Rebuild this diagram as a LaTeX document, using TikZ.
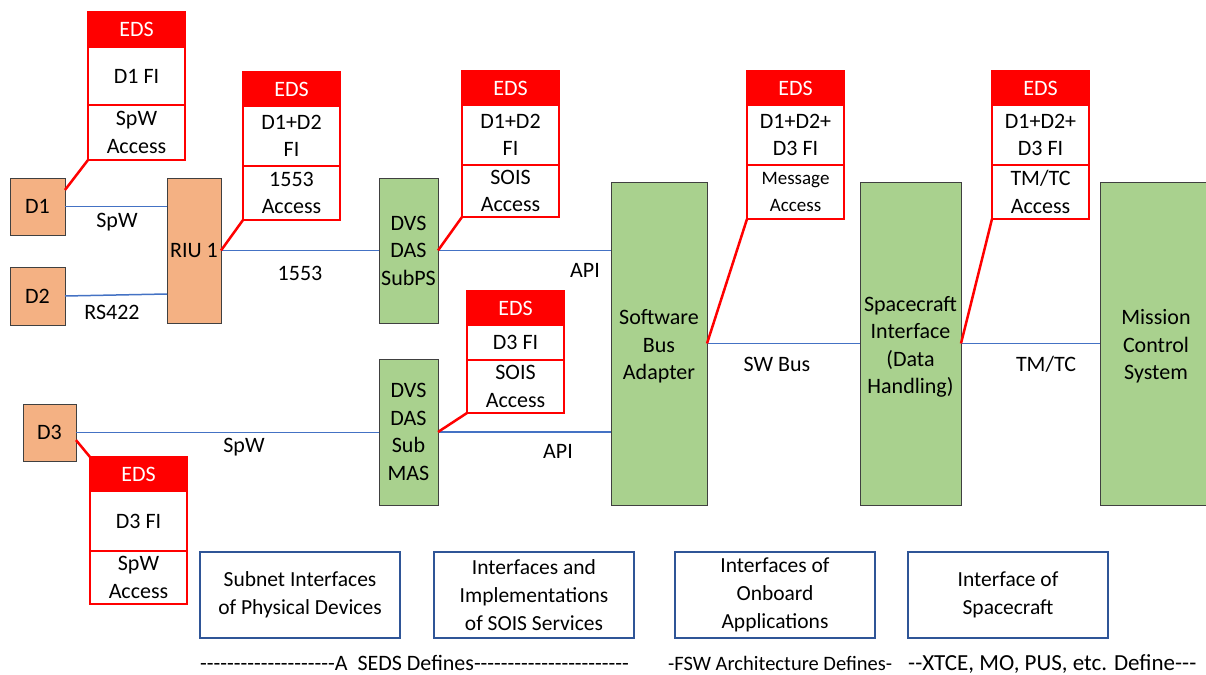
\documentclass[tikz,border=0pt]{standalone}
\usepackage{fontspec}
\setmainfont{Carlito}
\newfontfamily\plainhyphens{Carlito}[Ligatures=TeXOff]
\usetikzlibrary{calc}

\definecolor{devorange}{HTML}{F4B183}
\definecolor{swgreen}{HTML}{A9D18E}
\definecolor{boxgray}{HTML}{404040}
\definecolor{linkblue}{HTML}{4472C4}
\definecolor{edsred}{HTML}{FF0000}
\definecolor{capblue}{HTML}{2F5597}

\newcommand\bodyfont{\fontsize{22}{27.5}\selectfont}
\newcommand\smallfont{\fontsize{19}{25}\selectfont}
\newcommand\capfont{\fontsize{21.5}{28}\selectfont}
\newcommand\notefont{\plainhyphens\fontsize{22}{24}\selectfont}

% EDS stack: header, field-interface cell, access cell
% #1 name, #2 left, #3 top, #4/#5/#6 section heights, #7 middle text, #8 bottom text
\newcommand\edsbox[8]{%
  \node[edshead, anchor=north west, minimum height=#4] (#1h) at (#2,#3) {EDS};
  \node[edscell, anchor=north, minimum height=#5] (#1m) at (#1h.south) {#7};
  \node[edscell, anchor=north, minimum height=#6] (#1b) at (#1m.south) {#8};
}

\tikzset{
  device/.style={draw=boxgray, line width=0.8pt, fill=devorange, outer sep=0pt,
    inner sep=1pt, align=center, font=\bodyfont, anchor=north west},
  swbox/.style={draw=boxgray, line width=0.8pt, fill=swgreen, outer sep=0pt,
    inner sep=1pt, align=center, font=\bodyfont, anchor=north west},
  edshead/.style={draw=edsred, fill=edsred, line width=2.5pt, outer sep=0pt,
    inner sep=1pt, minimum width=97, text=white, font=\bodyfont},
  edscell/.style={draw=edsred, fill=white, line width=2.5pt, outer sep=0pt,
    inner sep=1pt, minimum width=97, align=center, font=\bodyfont},
  link/.style={draw=linkblue, line width=1.5pt},
  tag/.style={draw=edsred, line width=2.5pt},
  lbl/.style={inner sep=0pt, font=\bodyfont},
  capbox/.style={draw=capblue, line width=2pt, fill=white, outer sep=0pt,
    minimum width=200, minimum height=86, align=center, font=\capfont, anchor=north west},
  note/.style={inner sep=0pt, font=\notefont, anchor=base west}
}

\begin{document}
\begin{tikzpicture}[x=1pt, y=-1pt]
\useasboundingbox (0,0) rectangle (1206,674);
\clip (0,0) rectangle (1206,674);
\fill[white] (0,0) rectangle (1206,674);

% physical devices and remote interface unit
\node[device, minimum width=55, minimum height=57] (d1) at (10,178) {D1};
\node[device, minimum width=55, minimum height=58] (d2) at (10,267) {D2};
\node[device, minimum width=54, minimum height=145] (riu) at (167,178) {RIU 1};
\node[device, minimum width=53, minimum height=57] (d3) at (23,404) {D3};

% SOIS services and software blocks
\node[swbox, minimum width=59, minimum height=145] (subps) at (379,178) {DVS\\DAS\\SubPS};
\node[swbox, minimum width=59, minimum height=146] (mas) at (379,359) {DVS\\DAS\\Sub\\MAS};
\node[swbox, minimum width=96, minimum height=323] (sba) at (611,182) {\\[-6pt]Software\\Bus\\Adapter};
\node[swbox, minimum width=101, minimum height=323] (sci) at (860,182) {\\[-6pt]Spacecraft\\Interface\\(Data\\Handling)};
\node[swbox, minimum width=112, minimum height=323] (mcs) at (1100,182) {\\[-6pt]Mission\\Control\\System};

% links
\draw[link] (d1.east) -- (d1.east -| riu.west);
\draw[link] (d2.east) -- ($(d2.east -| riu.west)+(0,-2)$);
\draw[link] (riu.east) -- (subps.west);
\draw[link] (subps.east) -- (subps.east -| sba.west);
\draw[link] (d3.east) -- (d3.east -| mas.west);
\draw[link] (mas.east) -- (mas.east -| sba.west);
\draw[link] (sba.east) -- (sci.west);
\draw[link] (sci.east) -- (mcs.west);

% link labels
\node[lbl] (l1) at (117,222) {SpW};
\node[lbl] (l2) at (112,312) {RS422};
\node[lbl] (l3) at (300,273) {1553};
\node[lbl] (l4) at (585,270) {API};
\node[lbl] (l5) at (244,447) {SpW};
\node[lbl] (l6) at (558,451) {API};
\node[lbl] (l7) at (777,364) {SW Bus};
\node[lbl] (l8) at (1046,364) {TM/TC};

% electronic data sheets
\edsbox{ea}{88}{12}{35}{58}{55}{D1 FI}{SpW\\Access}
\edsbox{eb}{243}{72}{34}{60}{54}{D1+D2\\FI}{1553\\Access}
\edsbox{ec}{462}{71}{34}{60}{52}{D1+D2\\FI}{SOIS\\Access}
\edsbox{ed}{467}{291}{34}{35}{53}{D3 FI}{SOIS\\Access}
\edsbox{ee}{90}{457}{34}{60}{53}{D3 FI}{SpW\\Access}
\edsbox{ef}{747}{71}{34}{60}{54}{D1+D2+\\D3 FI}{\smallfont Message\\\smallfont Access}
\edsbox{eg}{992}{71}{34}{60}{54}{D1+D2+\\D3 FI}{TM/TC\\Access}

% data sheet attachments
\draw[tag] (eab.south west) -- (d1.31);
\draw[tag] (ebb.south west) -- (riu.east);
\draw[tag] (ecb.south west) -- (subps.east);
\draw[tag] (edb.south west) -- (mas.east);
\draw[tag] (d3.-16) -- (eeh.north west);
\draw[tag] (efb.south west) -- (sba.east);
\draw[tag] (egb.south west) -- (sci.east);

% interface scopes
\node[capbox] (c1) at (200,552) {Subnet Interfaces\\of Physical Devices};
\node[capbox] (c2) at (434,552) {Interfaces and\\Implementations\\of SOIS Services};
\node[capbox] (c3) at (675,552) {Interfaces of\\Onboard\\Applications};
\node[capbox] (c4) at (908,552) {Interface of\\Spacecraft};

\node[note] (n1) at (200,670) {--------------------A\ \ SEDS Defines-----------------------};
\node[note, font=\plainhyphens\fontsize{20.5}{24}\selectfont] (n2) at (668,670) {-FSW Architecture Defines-};
\node[note, font=\plainhyphens\fontsize{23}{24}\selectfont] (n3) at (908,670) {--XTCE, MO, PUS, etc. Define---};
\end{tikzpicture}
\end{document}
